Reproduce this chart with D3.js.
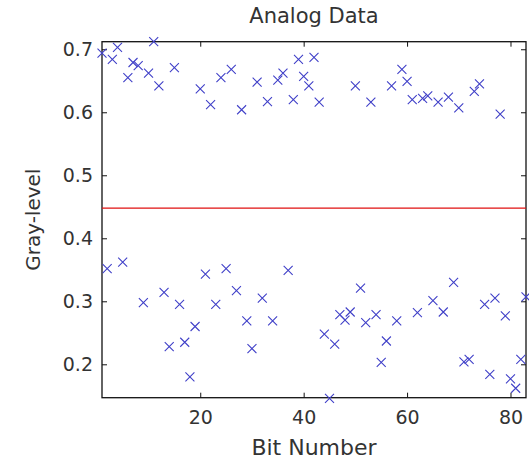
<!DOCTYPE html>
<html>
<head>
<meta charset="utf-8">
<script src="https://cdn.jsdelivr.net/npm/d3@7"></script>
<style>
  body { margin: 0; background: #fff; }
  text { font-family: "DejaVu Sans", sans-serif; fill: #333; }
</style>
</head>
<body>
<div id="chart"></div>
<script>
// bit numbers 1..83 and the gray-level read for each one
let bits = [];
for (let i = 1; i <= 83; i++) bits.push(i);

let grayLevels = [
  0.694, 0.352, 0.684, 0.703, 0.362, 0.655, 0.679, 0.674, 0.298, 0.662,
  0.712, 0.642, 0.314, 0.228, 0.671, 0.295, 0.235, 0.180, 0.260, 0.637,
  0.343, 0.612, 0.295, 0.655, 0.352, 0.668, 0.317, 0.604, 0.269, 0.225,
  0.648, 0.305, 0.617, 0.269, 0.651, 0.662, 0.349, 0.620, 0.684, 0.657,
  0.642, 0.687, 0.616, 0.248, 0.146, 0.232, 0.279, 0.270, 0.283, 0.642,
  0.321, 0.266, 0.616, 0.279, 0.203, 0.237, 0.642, 0.269, 0.668, 0.649,
  0.620, 0.282, 0.622, 0.626, 0.301, 0.616, 0.283, 0.624, 0.330, 0.607,
  0.204, 0.208, 0.633, 0.645, 0.295, 0.184, 0.305, 0.597, 0.277, 0.177,
  0.162, 0.208, 0.307
];

// threshold line
let threshold = 0.448;

let xTicks = [20, 40, 60, 80];
let yTicks = [0.2, 0.3, 0.4, 0.5, 0.6, 0.7];

const width = 529, height = 465;
const plotLeft = 102, plotRight = 526, plotTop = 41.7, plotBottom = 397.7;

var svg = d3.select("#chart").append("svg")
  .attr("width", width).attr("height", height);

var x = d3.scaleLinear().domain([1, 83]).range([plotLeft, plotRight]);
var y = d3.scaleLinear().domain([0.147, 0.712]).range([plotBottom, plotTop]);

// axes with inward ticks, MATLAB style
svg.append("g").attr("transform", `translate(0,${plotBottom})`)
  .call(d3.axisBottom(x).tickValues(xTicks).tickSizeInner(-5).tickSizeOuter(0).tickPadding(13))
  .call(g => g.selectAll("text").style("font-size", "19px"));
svg.append("g").attr("transform", `translate(0,${plotTop})`)
  .call(d3.axisTop(x).tickValues(xTicks).tickSizeInner(-5).tickSizeOuter(0).tickFormat(""));
svg.append("g").attr("transform", `translate(${plotLeft},0)`)
  .call(d3.axisLeft(y).tickValues(yTicks).tickSizeInner(-5).tickSizeOuter(0).tickPadding(9).tickFormat(d3.format(".1f")))
  .call(g => g.selectAll("text").style("font-size", "19px"));
svg.append("g").attr("transform", `translate(${plotRight},0)`)
  .call(d3.axisRight(y).tickValues(yTicks).tickSizeInner(-5).tickSizeOuter(0).tickFormat(""));

svg.selectAll(".domain").remove();
svg.selectAll(".tick line").attr("stroke", "#111");

// box
svg.append("rect")
  .attr("x", plotLeft).attr("y", plotTop)
  .attr("width", plotRight - plotLeft).attr("height", plotBottom - plotTop)
  .attr("fill", "none").attr("stroke", "#111").attr("stroke-width", 1.3);

// red threshold line
svg.append("line")
  .attr("x1", x(1)).attr("x2", x(83))
  .attr("y1", y(threshold)).attr("y2", y(threshold))
  .attr("stroke", "#e01010").attr("stroke-width", 1.2);

// x markers
const m = 4.5;
svg.append("g").selectAll("path")
  .data(bits)
  .enter().append("path")
  .attr("d", function (d, i) {
    let cx = x(d), cy = y(grayLevels[i]);
    return `M${cx - m},${cy - m}L${cx + m},${cy + m}M${cx - m},${cy + m}L${cx + m},${cy - m}`;
  })
  .attr("stroke", "#4040c8").attr("stroke-width", 1.1).attr("fill", "none");

// labels
svg.append("text")
  .attr("x", (plotLeft + plotRight) / 2).attr("y", 23)
  .attr("text-anchor", "middle").style("font-size", "21px")
  .text("Analog Data");

svg.append("text")
  .attr("x", (plotLeft + plotRight) / 2).attr("y", 455)
  .attr("text-anchor", "middle").style("font-size", "22px")
  .text("Bit Number");

svg.append("text")
  .attr("transform", `translate(40,${(plotTop + plotBottom) / 2}) rotate(-90)`)
  .attr("text-anchor", "middle").style("font-size", "20px")
  .text("Gray-level");
</script>
</body>
</html>
